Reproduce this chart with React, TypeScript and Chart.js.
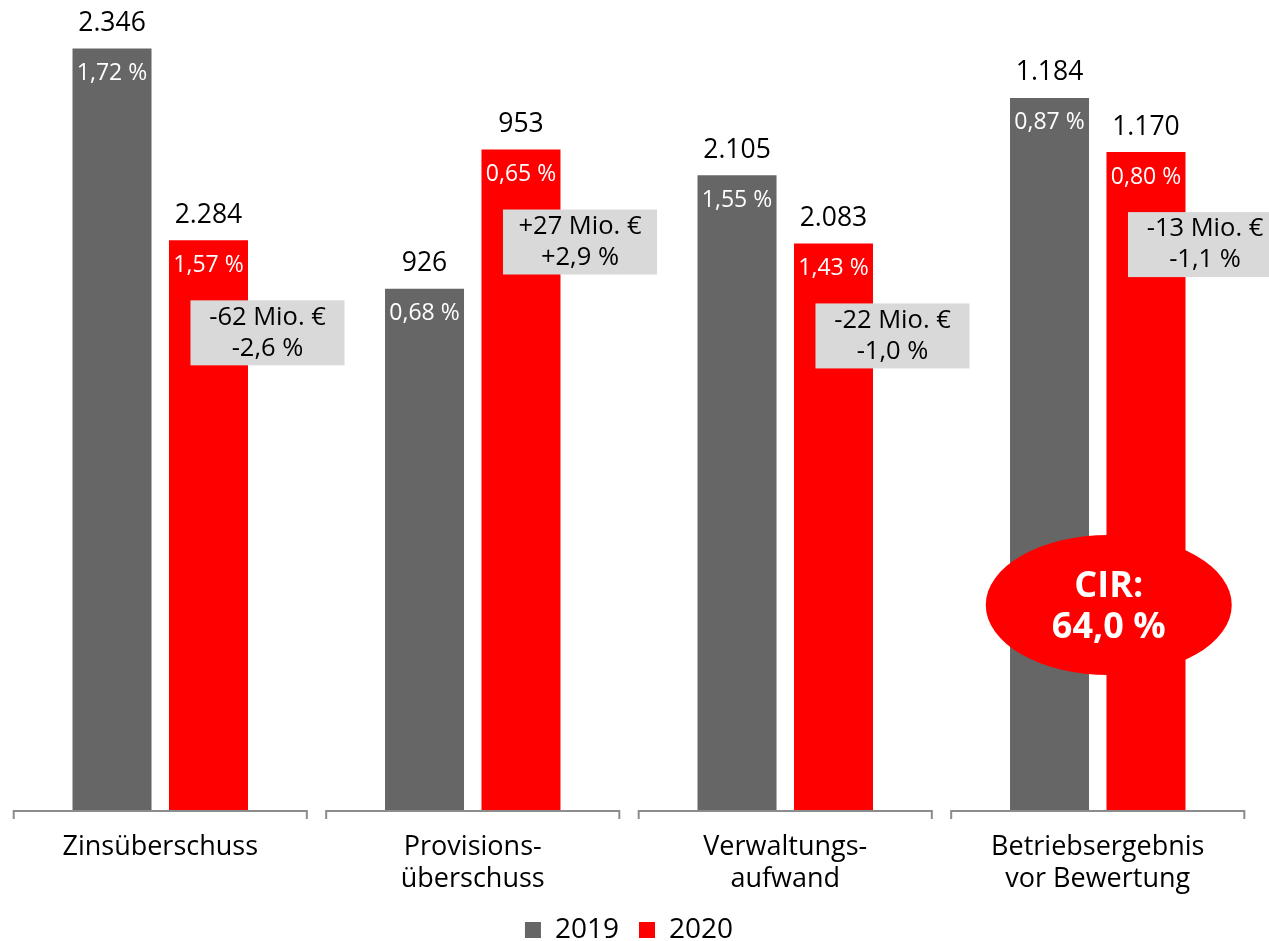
import React, { useEffect, useRef } from 'react';
import { Chart, registerables } from 'chart.js';

Chart.register(...registerables);

// ---------- data ----------
const categories: string[][] = [
  ['Zinsüberschuss'],
  ['Provisions-', 'überschuss'],
  ['Verwaltungs-', 'aufwand'],
  ['Betriebsergebnis', 'vor Bewertung'],
];
const years = ['2019', '2020'];
const values2019 = [2346, 926, 2105, 1184];
const values2020 = [2284, 953, 2083, 1170];
const ratio2019 = [1.72, 0.68, 1.55, 0.87];
const ratio2020 = [1.57, 0.65, 1.43, 0.8];
const changeMio = [-62, 27, -22, -13];
const changePct = [-2.6, 2.9, -1.0, -1.1];
// each category is drawn on its own truncated value axis
const axisMin = [2100, 825, 1900, 1000];
const axisMax = [2350, 975, 2150, 1200];
const cirValue = 64.0;

// ---------- styles ----------
const FONT = "'Open Sans', 'DejaVu Sans', sans-serif";
const GREY = '#666666';
const RED = '#ff0000';
const BOX = '#d9d9d9';
const AXIS = '#8c8c8c';

const fmtThousands = (n: number) => String(n).replace(/\B(?=(\d{3})+(?!\d))/g, '.');
const fmtDec = (n: number, d: number) => Math.abs(n).toFixed(d).replace('.', ',');
const sign = (n: number) => (n > 0 ? '+' : n < 0 ? '-' : '');

const seriesValues = [values2019, values2020];
const seriesRatios = [ratio2019, ratio2020];
const seriesColors = [GREY, RED];

const datasets: any[] = [];
years.forEach((year, s) => {
  categories.forEach((_, c) => {
    datasets.push({
      label: year,
      data: categories.map((__, i) => (i === c ? seriesValues[s][c] : null)),
      yAxisID: 'y' + c,
      backgroundColor: seriesColors[s],
      borderWidth: 0,
      barPercentage: 0.819,
      categoryPercentage: 0.6174,
      skipNull: true,
      inLegend: c === 0,
      seriesIndex: s,
      catIndex: c,
    });
  });
});

const yScales: any = {};
categories.forEach((_, c) => {
  yScales['y' + c] = { type: 'linear', display: false, min: axisMin[c], max: axisMax[c] };
});

const labelsPlugin = {
  id: 'barLabels',
  afterDatasetsDraw(chart: any) {
    const ctx = chart.ctx as CanvasRenderingContext2D;
    const xs = chart.scales.x;
    const area = chart.chartArea;
    const catW = xs.getPixelForValue(1) - xs.getPixelForValue(0);
    const half = catW * 0.469;
    ctx.save();

    // axis segments per category
    ctx.strokeStyle = AXIS;
    ctx.lineWidth = 2;
    categories.forEach((_, i) => {
      const cx = xs.getPixelForValue(i);
      const y = area.bottom + 1;
      ctx.beginPath();
      ctx.moveTo(cx - half, y + 8);
      ctx.lineTo(cx - half, y);
      ctx.lineTo(cx + half, y);
      ctx.lineTo(cx + half, y + 8);
      ctx.stroke();
    });

    // change boxes next to 2020 bars
    chart.data.datasets.forEach((ds: any, di: number) => {
      if (ds.seriesIndex !== 1) return;
      const bar = chart.getDatasetMeta(di).data[ds.catIndex];
      const bx = bar.x - 18;
      const by = bar.y + 60;
      ctx.fillStyle = BOX;
      ctx.fillRect(bx, by, 154, 65);
      ctx.fillStyle = '#000';
      ctx.font = `25.5px ${FONT}`;
      ctx.textAlign = 'center';
      ctx.textBaseline = 'middle';
      const c = ds.catIndex;
      ctx.fillText(`${sign(changeMio[c])}${Math.abs(changeMio[c])} Mio. €`, bx + 77, by + 17);
      ctx.fillText(`${sign(changePct[c])}${fmtDec(changePct[c], 1)} %`, bx + 77, by + 48);
    });

    // value labels and ratios
    chart.data.datasets.forEach((ds: any, di: number) => {
      const bar = chart.getDatasetMeta(di).data[ds.catIndex];
      const c = ds.catIndex;
      const s = ds.seriesIndex;
      ctx.textAlign = 'center';
      ctx.textBaseline = 'middle';
      ctx.fillStyle = '#000';
      ctx.font = `26.5px ${FONT}`;
      ctx.fillText(fmtThousands(seriesValues[s][c]), bar.x, bar.y - 25);
      ctx.fillStyle = '#ffffff';
      ctx.font = `23px ${FONT}`;
      ctx.fillText(`${fmtDec(seriesRatios[s][c], 2)} %`, bar.x, bar.y + 25);
    });

    // CIR bubble
    const ex = xs.getPixelForValue(3) + 11;
    const ey = area.bottom - 205;
    ctx.fillStyle = RED;
    ctx.beginPath();
    ctx.ellipse(ex, ey, 123, 70, 0, 0, Math.PI * 2);
    ctx.fill();
    ctx.fillStyle = '#ffffff';
    ctx.font = `bold 36px ${FONT}`;
    ctx.textAlign = 'center';
    ctx.textBaseline = 'middle';
    ctx.fillText('CIR:', ex, ey - 18);
    ctx.fillText(`${fmtDec(cirValue, 1)} %`, ex, ey + 23);

    ctx.restore();
  },
};

export default function App() {
  const ref = useRef<HTMLCanvasElement>(null);
  useEffect(() => {
    const chart = new Chart(ref.current as HTMLCanvasElement, {
      type: 'bar',
      data: { labels: categories as any, datasets },
      options: {
        animation: false,
        responsive: false,
        devicePixelRatio: 1,
        events: [],
        layout: { padding: { top: 36, left: 4, right: 15, bottom: 0 } },
        scales: {
          x: {
            type: 'category',
            grid: { display: false, drawTicks: false },
            border: { display: false },
            ticks: {
              color: '#000',
              font: { family: FONT, size: 27, lineHeight: 1.185 },
              padding: 21,
              maxRotation: 0,
              autoSkip: false,
            },
            afterFit: (s: any) => {
              s.height = 86;
            },
          },
          ...yScales,
        },
        plugins: {
          tooltip: { enabled: false },
          legend: {
            position: 'bottom',
            labels: {
              boxWidth: 16,
              boxHeight: 16,
              padding: 20,
              color: '#000',
              font: { family: FONT, size: 28 },
              filter: (item: any, data: any) => data.datasets[item.datasetIndex].inLegend,
            },
          },
        },
      } as any,
      plugins: [labelsPlugin],
    });
    return () => chart.destroy();
  }, []);
  return (
    <div
      style={{
        position: 'absolute',
        left: 0,
        top: 0,
        width: 1269,
        height: 941,
        overflow: 'hidden',
        background: '#ffffff',
      }}
    >
      <canvas ref={ref} width={1269} height={954} style={{ display: 'block', width: 1269, height: 954 }} />
    </div>
  );
}
